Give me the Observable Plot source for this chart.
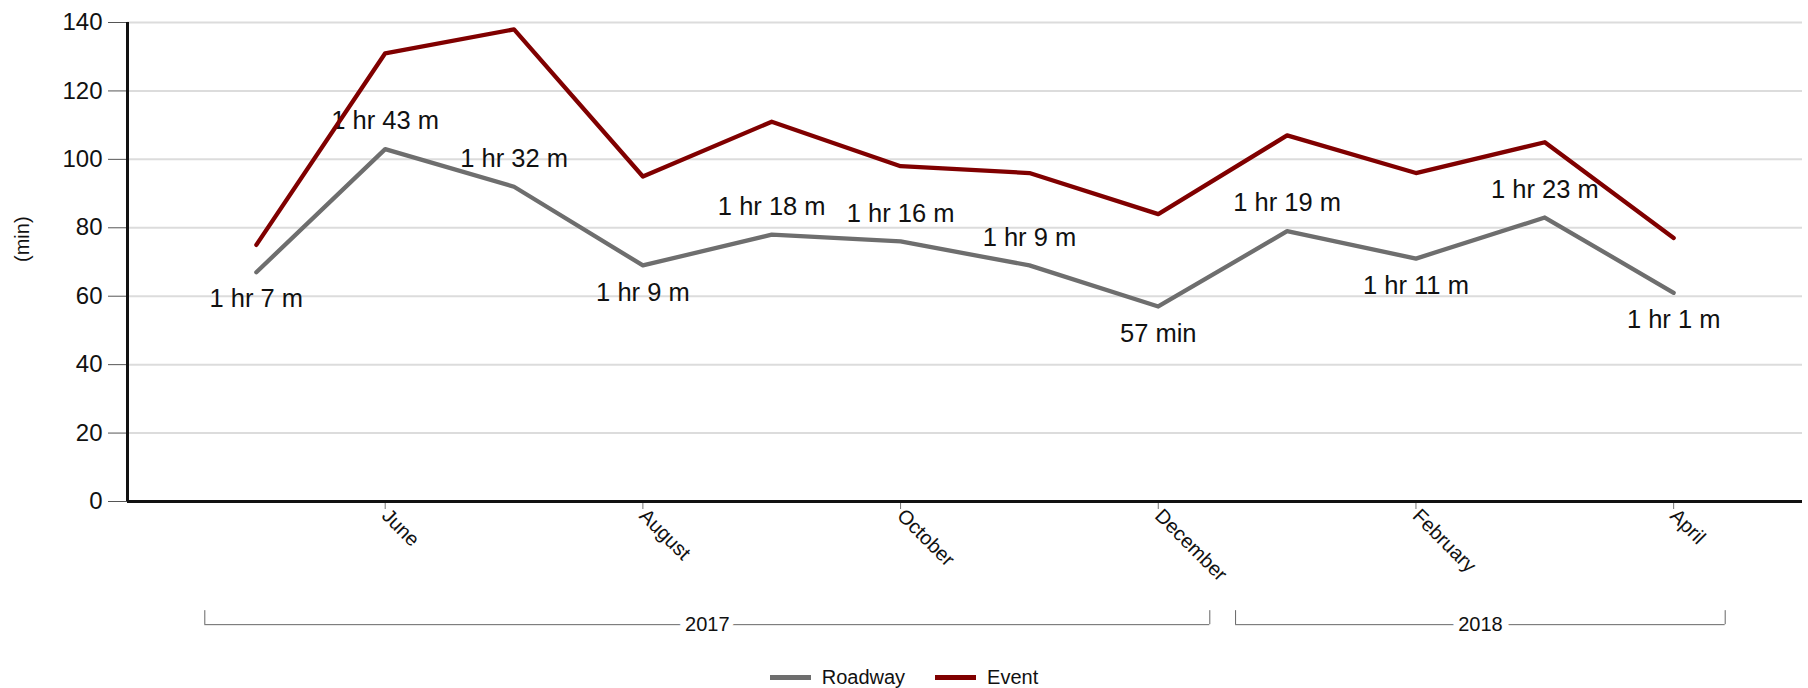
<!DOCTYPE html>
<html>
<head>
<meta charset="utf-8">
<script src="https://cdn.jsdelivr.net/npm/d3@7"></script>
<script src="https://cdn.jsdelivr.net/npm/@observablehq/plot@0.6"></script>
<style>
  html, body { margin: 0; padding: 0; background: #fff; overflow: hidden; }
  body { font-family: "Liberation Sans", Arial, sans-serif; width: 1808px; height: 688px; position: relative; }
  #legend { position: absolute; left: 0; width: 1808px; top: 663px; height: 28px;
            display: flex; justify-content: center; align-items: center; font-size: 20px; color: #111; }
  .item { display: flex; align-items: center; margin: 0 15px; }
  .sw { width: 41px; height: 5px; margin-right: 11px; }
</style>
</head>
<body>
<div id="chart"></div>
<div id="legend"></div>
<script>
// ---- data ----
const months = ["May", "June", "July", "August", "September", "October", "November", "December",
                "January", "February", "March", "April"];
const monthYears = ["2017", "2017", "2017", "2017", "2017", "2017", "2017", "2017",
                    "2018", "2018", "2018", "2018"];
const roadway = [67, 103, 92, 69, 78, 76, 69, 57, 79, 71, 83, 61];
const eventVals = [75, 131, 138, 95, 111, 98, 96, 84, 107, 96, 105, 77];
const roadwayLabels = ["1 hr 7 m", "1 hr 43 m", "1 hr 32 m", "1 hr 9 m", "1 hr 18 m", "1 hr 16 m",
                       "1 hr 9 m", "57 min", "1 hr 19 m", "1 hr 11 m", "1 hr 23 m", "1 hr 1 m"];
const tickMonths = ["June", "August", "October", "December", "February", "April"];
const yTicks = [0, 20, 40, 60, 80, 100, 120, 140];
const seriesNames = ["Roadway", "Event"];
const seriesColors = ["#6e6e6e", "#800000"];
const yLabel = "(min)";

// ---- derived tables ----
const rows = [];
months.forEach((m, i) => rows.push({i, month: m, series: "Roadway", value: roadway[i]}));
months.forEach((m, i) => rows.push({i, month: m, series: "Event", value: eventVals[i]}));

const labelRows = roadway.map((v, i) => {
  const prev = i > 0 ? roadway[i - 1] : Infinity;
  const next = i < roadway.length - 1 ? roadway[i + 1] : Infinity;
  return {i, value: v, label: roadwayLabels[i], below: v < prev && v < next};
});

const years = Array.from(new Set(monthYears));
const yearGroups = years.map(y => {
  const idx = monthYears.map((yy, i) => yy === y ? i : -1).filter(i => i >= 0);
  return {year: y, x1: idx[0] - 0.4, x2: idx[idx.length - 1] + 0.4};
});
const bracketEnds = yearGroups.flatMap(g => [g.x1, g.x2]);
const tickIdx = tickMonths.map(m => months.indexOf(m));

const bracketY = -36, bracketTop = -31.9;

const chart = Plot.plot({
  width: 1808,
  height: 640,
  marginLeft: 127,
  marginRight: 6,
  marginTop: 22,
  marginBottom: 139,
  style: {fontFamily: "Liberation Sans, Arial, sans-serif", background: "white", color: "#111", overflow: "visible"},
  x: {type: "linear", domain: [-1, months.length]},
  y: {domain: [0, 140]},
  color: {domain: seriesNames, range: seriesColors},
  marks: [
    Plot.gridY(yTicks, {stroke: "#dcdcdc", strokeOpacity: 1, strokeWidth: 2}),
    Plot.axisY(yTicks, {tickSize: 19, tickPadding: 6, fontSize: 24, stroke: "#555", label: null}),
    Plot.axisX(tickIdx, {tickFormat: i => months[i], tickRotate: 45, tickSize: 8, tickPadding: 3,
                         fontSize: 20, stroke: "#777", label: null}),
    Plot.text([yLabel], {frameAnchor: "left", dx: -105, rotate: -90, fontSize: 20, fill: "#111"}),
    Plot.text(labelRows.filter(d => !d.below), {x: "i", y: "value", text: "label", dy: -28, fontSize: 25.5, fill: "#111"}),
    Plot.text(labelRows.filter(d => d.below), {x: "i", y: "value", text: "label", dy: 27, fontSize: 25.5, fill: "#111"}),
    Plot.line(rows, {x: "i", y: "value", z: "series", stroke: "series", strokeWidth: 4.3}),
    Plot.ruleY([0], {stroke: "#111", strokeWidth: 3}),
    Plot.ruleX([-1], {stroke: "#111", strokeWidth: 3}),
    Plot.ruleY(yearGroups, {y: bracketY, x1: "x1", x2: "x2", stroke: "#666", strokeWidth: 1}),
    Plot.ruleX(bracketEnds, {x: d => d, y1: bracketY, y2: bracketTop, stroke: "#666", strokeWidth: 1}),
    Plot.text(yearGroups, {x: d => (d.x1 + d.x2) / 2, y: bracketY, text: "year", fontSize: 20,
                           fill: "#111", stroke: "white", strokeWidth: 14})
  ]
});
document.getElementById("chart").appendChild(chart);

const legend = document.getElementById("legend");
seriesNames.forEach((n, k) => {
  const it = document.createElement("div");
  it.className = "item";
  it.innerHTML = `<span class="sw" style="background:${seriesColors[k]}"></span><span>${n}</span>`;
  legend.appendChild(it);
});
</script>
</body>
</html>
